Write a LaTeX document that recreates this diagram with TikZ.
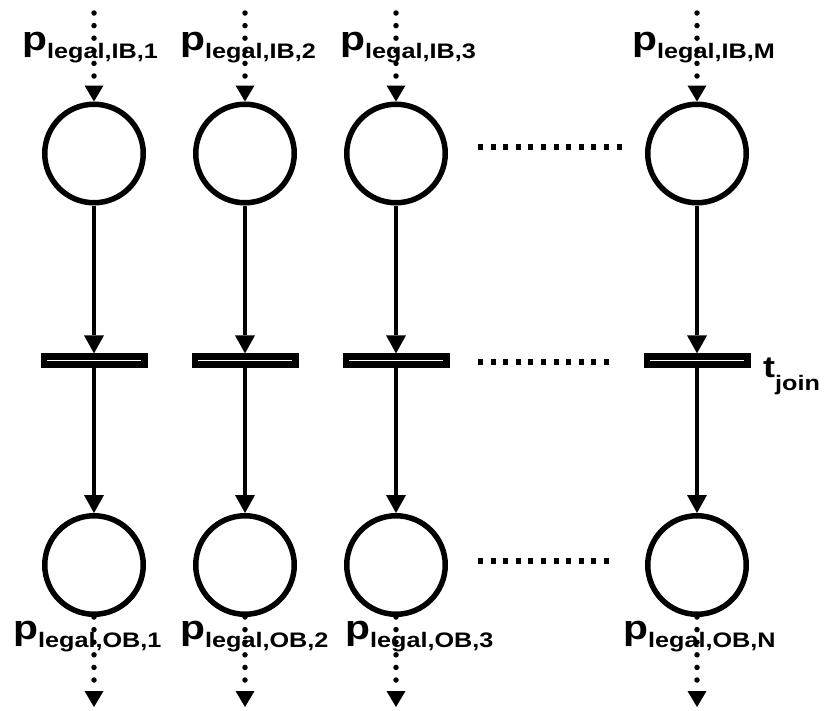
\documentclass[tikz,border=0pt]{standalone}
\usepackage{fontspec}
\usepackage{tikz}
\usetikzlibrary{arrows.meta,positioning,shapes.geometric}
\newfontfamily\lblfont[FakeStretch=1.2]{Liberation Sans}
\newcommand{\plbl}[1]{{\lblfont\bfseries\fontsize{34}{34}\selectfont p\raisebox{-8pt}{\fontsize{21}{21}\selectfont #1}}}
\tikzset{%
	place/.style  = {draw, circle, line width=5.5pt, minimum size=98.5pt, inner sep=0pt},
	trans/.style  = {draw, rectangle, fill=white, line width=6.5pt, minimum width=100.5pt, minimum height=7.8pt, inner sep=0pt},
	arc/.style    = {line width=4.5pt, -{Triangle[width=20pt,length=18pt,line width=0pt]}},
	dotarc/.style = {line width=5.5pt, line cap=round, dash pattern=on 0pt off 12.6pt, -{Triangle[width=19pt,length=16pt,line width=0pt]}},
	etc/.style    = {line width=5.5pt, dash pattern=on 5pt off 7.6pt},
	lbl/.style    = {inner sep=0pt, anchor=base west},
}

\begin{document}
\begin{tikzpicture}[x=1pt,y=-1pt]
	
	\useasboundingbox (0,0) rectangle (832,710);
	
	% one column per buffer
	\foreach \x/\m/\n/\tl/\bl in {94/1/1/22/13, 245/2/2/180/180, 396/3/3/340/345, 697/M/N/632/623} {
		\node[place] (pin\m)  at (\x,153.5) {};
		\node[trans] (bar\m)  at (\x,360.5) {};
		\node[place] (pout\m) at (\x,565) {};
		\coordinate (src\m) at (\x,13);
		\coordinate (snk\m) at (\x,707);
		
		\draw[dotarc] (src\m) -- (pin\m);
		\draw[arc] (pin\m) -- (bar\m);
		\draw[arc] (bar\m) -- (pout\m);
		\draw[dotarc] (pout\m) -- (snk\m);
		
		\node[lbl] (lin\m)  at (\tl,50)  {\plbl{legal,IB,\m}};
		\node[lbl] (lout\m) at (\bl,639) {\plbl{legal,OB,\n}};
	}
	
	\draw[etc] (478,147) -- (622,147);  % between places
	\draw[etc] (478,362) -- (612,362);  % between transitions
	\draw[etc] (478,561) -- (612,561);
	
	\node[lbl] (tjoin) at (763,377) {\lblfont\bfseries\fontsize{30}{30}\selectfont t\raisebox{-13pt}{\fontsize{21}{21}\selectfont join}};
	
\end{tikzpicture}
\end{document}
